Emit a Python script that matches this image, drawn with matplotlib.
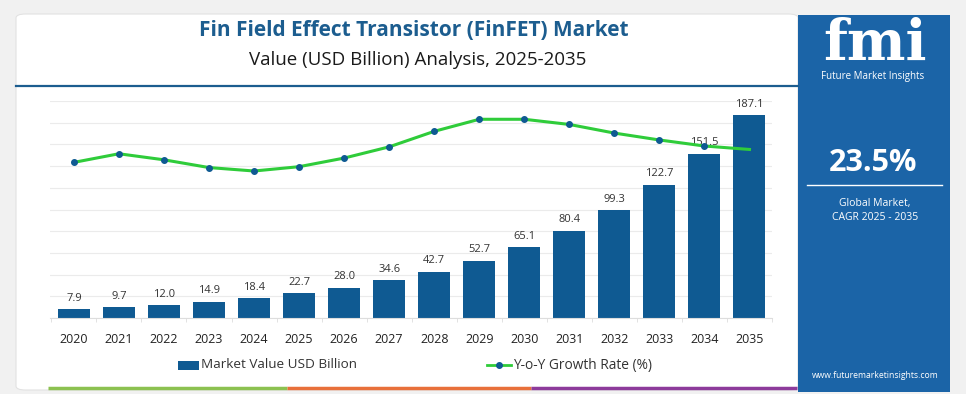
import numpy as np
import matplotlib.pyplot as plt
from matplotlib.patches import Rectangle, FancyBboxPatch
from matplotlib.lines import Line2D

W, H = 966, 394

years = [str(y) for y in range(2020, 2036)]
market_value = [7.9, 9.7, 12.0, 14.9, 18.4, 22.7, 28.0, 34.6, 42.7, 52.7,
                65.1, 80.4, 99.3, 122.7, 151.5, 187.1]
yoy_growth = [21.5, 22.5, 21.8, 20.9, 20.5, 21.0, 22.0, 23.3, 25.1, 26.5,
              26.5, 25.9, 24.9, 24.1, 23.4, 23.0]

BAR = '#0f5a92'
GREEN = '#2fcc3a'
TITLE = '#1c5d8f'
PANEL = '#1b64a7'

plt.rcParams['font.family'] = ['Open Sans', 'DejaVu Sans']

fig = plt.figure(figsize=(W / 100, H / 100), dpi=100)
fig.patch.set_facecolor('#f1f1f1')


def fx(px):
    return px / W


def fy(py):
    return 1 - py / H


# white card + blue side panel (behind everything)
fig.patches.append(FancyBboxPatch((fx(16), fy(390)), fx(782), 376 / H,
                                  boxstyle='round,pad=0,rounding_size=0.01',
                                  transform=fig.transFigure, fc='white',
                                  ec='#e2e2e2', lw=0.8, zorder=-2))
fig.patches.append(Rectangle((fx(798), fy(392)), fx(152), 377 / H,
                             transform=fig.transFigure, fc=PANEL, ec='none',
                             zorder=-1))

# titles
fig.text(fx(414), fy(30), 'Fin Field Effect Transistor (FinFET) Market',
         ha='center', va='center', fontsize=15, fontweight='bold', color=TITLE)
fig.text(fx(418), fy(60), 'Value (USD Billion) Analysis, 2025-2035',
         ha='center', va='center', fontsize=13.5, color='#1a1a1a')
fig.add_artist(Line2D([fx(16), fx(798)], [fy(86), fy(86)],
                      transform=fig.transFigure, color=TITLE, lw=1.6))

# bottom colour stripe
for x0, x1, c in [(48, 287, '#8cc150'), (287, 531, '#e8703a'), (531, 797, '#8d3b9b')]:
    fig.add_artist(Line2D([fx(x0), fx(x1)], [fy(388), fy(388)],
                          transform=fig.transFigure, color=c, lw=2.5,
                          solid_capstyle='butt'))

# main chart
ax = fig.add_axes([fx(50), fy(318), fx(722), 217 / H])
x = np.arange(len(years))
ax.bar(x, market_value, width=0.71, color=BAR, zorder=2)
for xi, v in zip(x, market_value):
    ax.text(xi, v + 5, f'{v:.1f}', ha='center', va='bottom', fontsize=8,
            color='#333333', zorder=3)
ax.set_ylim(0, 200)
ax.set_xlim(-0.53, 15.5)
ax.set_yticks(np.arange(0, 201, 20))
ax.yaxis.grid(True, color='#ebebeb', lw=0.8, zorder=0)
ax.tick_params(axis='y', length=0, labelleft=False)
ax.set_xticks(x)
ax.set_xticklabels(years, fontsize=9, color='#222222')
ax.tick_params(axis='x', length=0, pad=11)
ax.set_xticks(np.arange(-0.5, 15.6, 1), minor=True)
ax.tick_params(axis='x', which='minor', length=3, color='#dddddd')
for s in ['top', 'right', 'left']:
    ax.spines[s].set_visible(False)
ax.spines['bottom'].set_color('#dddddd')
ax.set_facecolor('none')

# growth line on its own scale; last point sits on the 2035 bar
ax2 = ax.twinx()
ax2.plot(x, yoy_growth, color=GREEN, lw=2.2, zorder=4)
ax2.plot(x[:-1], yoy_growth[:-1], lw=0, marker='o', markersize=4,
         color=BAR, zorder=5)
ax2.set_ylim(3.45, 28.62)
ax2.axis('off')

# legend
fig.add_artist(Rectangle((fx(178), fy(370)), fx(21), 9 / H,
                         transform=fig.transFigure, fc=BAR, ec='none'))
fig.text(fx(201), fy(365), 'Market Value USD Billion', ha='left', va='center',
         fontsize=9.7, color='#333333')
fig.add_artist(Line2D([fx(487), fx(511)], [fy(365), fy(365)],
                      transform=fig.transFigure, color=GREEN, lw=2))
fig.add_artist(Line2D([fx(499)], [fy(365)], transform=fig.transFigure,
                      marker='o', markersize=4, color=BAR, lw=0))
fig.text(fx(513), fy(365), 'Y-o-Y Growth Rate (%)', ha='left', va='center',
         fontsize=9.9, color='#333333')

# side panel content
fig.text(fx(875), fy(44), 'fmi', ha='center', va='center', fontsize=40,
         fontweight='bold', family='DejaVu Serif', color='white')
fig.text(fx(873), fy(77), 'Future Market Insights', ha='center', va='center',
         fontsize=7, color='white')
fig.text(fx(873), fy(163), '23.5%', ha='center', va='center', fontsize=22,
         fontweight='bold', color='white')
fig.add_artist(Line2D([fx(807), fx(942)], [fy(185), fy(185)],
                      transform=fig.transFigure, color='white', lw=1))
fig.text(fx(875), fy(203), 'Global Market,', ha='center', va='center',
         fontsize=7.5, color='white')
fig.text(fx(875), fy(217), 'CAGR 2025 - 2035', ha='center', va='center',
         fontsize=7.5, color='white')
fig.text(fx(875), fy(376), 'www.futuremarketinsights.com', ha='center',
         va='center', fontsize=6.2, color='white')

fig.savefig('out.png', dpi=100, facecolor=fig.get_facecolor())
